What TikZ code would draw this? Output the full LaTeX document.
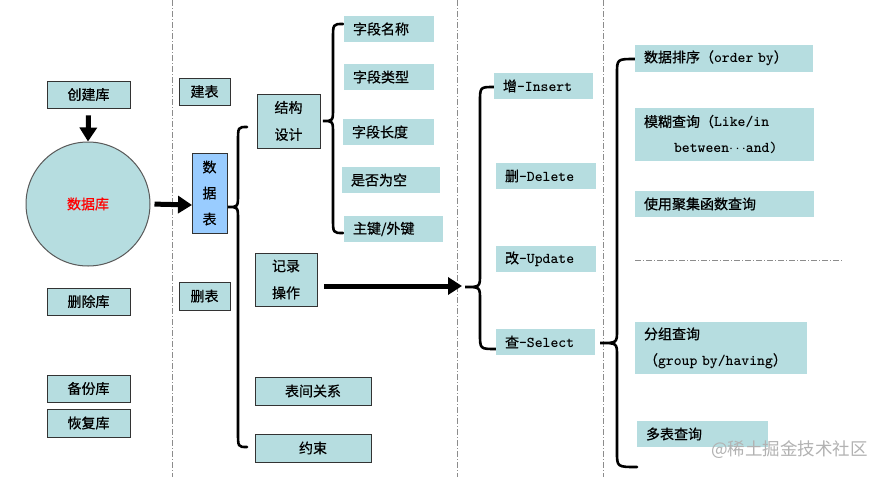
\documentclass[tikz,border=0pt]{standalone}
\usepackage{fontspec}
\newfontfamily\cjk[FakeBold=0.6]{Noto Sans CJK SC}
\newfontfamily\cjkwm{Noto Sans CJK SC}
\usetikzlibrary{arrows.meta}
\definecolor{boxfill}{RGB}{182,221,224}
\definecolor{bluefill}{RGB}{153,204,255}
\definecolor{sepgray}{RGB}{140,140,140}
\newcommand{\lat}[1]{{\ttfamily\bfseries\fontsize{15}{16}\selectfont #1}}
\newcommand{\mybrace}[7]{% tipx tipy vx topy boty endxtop endxbot
  \draw[bracestyle] (#6,#4) .. controls (#3,#4) .. (#3,#4+15) -- (#3,#2-13)
    .. controls (#3,#2) .. (#1,#2) .. controls (#3,#2) .. (#3,#2+13)
    -- (#3,#5-15) .. controls (#3,#5) .. (#7,#5);}
\begin{document}
\begin{tikzpicture}[x=1pt,y=-1pt,
  txt/.style={font=\cjk\fontsize{14}{16}\selectfont},
  box/.style={txt,draw=black!80,line width=0.8pt,fill=boxfill,inner sep=0pt,align=center},
  tbox/.style={txt,fill=boxfill,inner xsep=9pt,inner ysep=0pt,align=left},
  bracestyle/.style={line width=2.6pt,line cap=round},
  bigarrow/.style={line width=5pt,-{Triangle[length=14pt,width=17pt]}},
  sepline/.style={sepgray,line width=0.8pt,dash pattern=on 6pt off 2pt on 1pt off 2pt}]
\useasboundingbox (0,0) rectangle (888,477);
\fill[white] (0,0) rectangle (888,477);
% separators
\draw[sepline] (172,0) -- (172,477);
\draw[sepline] (457,0) -- (457,477);
\draw[sepline] (603,0) -- (603,477);
\draw[sepline] (635,260) -- (842,260);
% column 1
\node[box,minimum width=83pt,minimum height=27pt] (cjk) at (88.5,94.5) {创建库};
\node[circle,draw=black!65,line width=1pt,fill=boxfill,minimum size=124pt,inner sep=0pt,
      font=\cjk\fontsize{14}{16}\selectfont,text=red] (db) at (88,204) {数据库};
\node[box,minimum width=83pt,minimum height=27pt] (scku) at (88.5,301.5) {删除库};
\node[box,minimum width=83pt,minimum height=27pt] (bfku) at (88.5,388.5) {备份库};
\node[box,minimum width=83pt,minimum height=28pt] (hfku) at (88.5,423) {恢复库};
\draw[bigarrow] (cjk.south) ++(0,7) coordinate (a1) -- (db.north);
\draw[bigarrow,shorten <=4pt] (db.east) -- (192,205) coordinate (sjbw);
% column 2
\node[box,minimum width=51pt,minimum height=27pt] (jb) at (204.5,91.5) {建表};
\node[box,minimum width=51pt,minimum height=28pt] (sb) at (204.5,296) {删表};
\node[box,fill=bluefill,minimum width=35pt,minimum height=80pt,
      font=\cjk\fontsize{14}{26}\selectfont] (sjb) at (209.5,193) {数\\据\\表};
\mybrace{228}{207}{238}{127}{447}{247}{247}
\node[box,minimum width=63pt,minimum height=54pt,font=\cjk\fontsize{14}{27}\selectfont] (jgsj) at (288.5,121) {结构\\设计};
\node[box,minimum width=62pt,minimum height=53pt,font=\cjk\fontsize{14}{27}\selectfont] (jlcz) at (286,279.5) {记录\\操作};
\node[box,minimum width=116pt,minimum height=28pt] (bjgx) at (313,391) {表间关系};
\node[box,minimum width=116pt,minimum height=28pt] (ys) at (313,448) {约束};
\mybrace{323}{121}{333}{24}{233}{343}{343}
\node[tbox,text width=72pt,minimum height=26pt] (f1) at (389,29) {字段名称};
\node[tbox,text width=72pt,minimum height=26pt] (f2) at (389,77) {字段类型};
\node[tbox,text width=73pt,minimum height=26pt] (f3) at (388.5,132) {字段长度};
\node[tbox,text width=80pt,minimum height=26pt] (f4) at (391,180) {是否为空};
\node[tbox,text width=81pt,minimum height=26pt] (f5) at (393.5,229) {主键/外键};
\coordinate (tip3) at (462,286);
\draw[bigarrow,shorten <=7pt] (jlcz.east) ++(0,6.5) coordinate (a3) -- (tip3);
% column 3
\mybrace{465}{287}{480}{87}{349}{494}{496}
\node[tbox,text width=81pt,minimum height=26pt] (ins) at (543.5,86) {增\lat{-Insert}};
\node[tbox,text width=82pt,minimum height=26pt] (del) at (546,176) {删\lat{-Delete}};
\node[tbox,text width=82pt,minimum height=26pt] (upd) at (546,259) {改\lat{-Update}};
\node[tbox,text width=81pt,minimum height=26pt] (sel) at (545.5,342) {查\lat{-Select}};
% column 4
\mybrace{600}{343}{617}{59}{467}{635}{637}
\node[tbox,text width=160pt,minimum height=27pt] (q1) at (724,58) {数据排序（\lat{order by}）};
\node[tbox,text width=161pt,minimum height=53pt,font=\cjk\fontsize{14}{26}\selectfont] (q2) at (724.5,134.5)
   {模糊查询（\lat{Like/in}\\\hspace*{30pt}\lat{between}$\cdots$\lat{and)}};
\node[tbox,text width=161pt,minimum height=26pt] (q3) at (724.5,204) {使用聚集函数查询};
\node[tbox,text width=154pt,minimum height=52pt,font=\cjk\fontsize{14}{26}\selectfont] (q4) at (721,348)
   {分组查询\\（\lat{group by/having}）};
\node[tbox,text width=113pt,minimum height=26pt] (q5) at (702.5,434) {多表查询};
\node[font=\cjkwm\fontsize{17.5}{18}\selectfont,text=black!30,anchor=west,inner sep=0pt] (wm) at (711,450) {@稀土掘金技术社区};
\end{tikzpicture}
\end{document}
